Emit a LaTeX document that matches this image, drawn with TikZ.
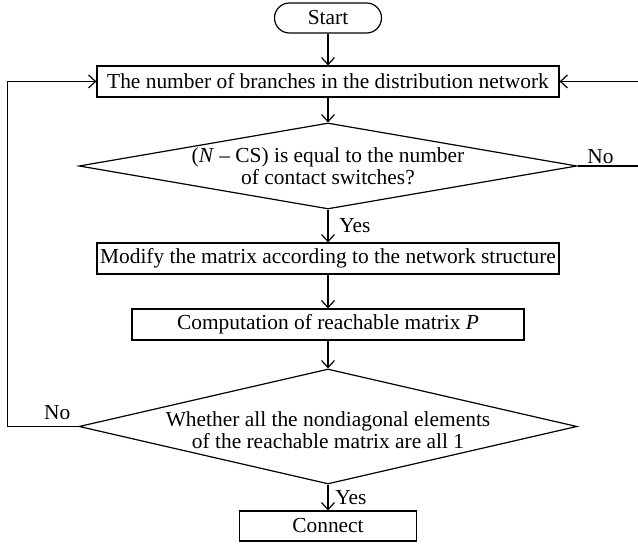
\documentclass[tikz,border=0pt]{standalone}
\usepackage{fontspec}
\setmainfont{Liberation Serif}
\usetikzlibrary{shapes.geometric,arrows.meta}

\begin{document}
\begin{tikzpicture}[x=0.5pt, y=0.5pt,
    font=\fontsize{10.7}{11}\selectfont,
    caja/.style={draw, line width=0.6pt, minimum height=15.5pt, inner sep=0pt},
    inicio/.style={caja, rounded corners=7.5pt, minimum width=53.5pt, minimum height=15pt},
    decision/.style={draw, line width=0.6pt, diamond, inner sep=0pt},
    flecha/.style={line width=0.6pt, -{Straight Barb[length=3.5pt,width=6.5pt]}}]

        % Marco de la figura
        \useasboundingbox (0,0) rectangle (638,544);

        % Bloques del diagrama
        \node[inicio] (start) at (328,526) {Start};
        \node[caja, minimum width=231pt] (ramas) at (328,462.5) {The number of branches in the distribution network};
        \node[decision, minimum width=249pt, minimum height=43pt] (cond) at (328,378) {};
        \node[align=center] (condtxt) at (cond) {(\textit{N} -- CS) is equal to the number\\of contact switches?};
        \node[caja, minimum width=231pt] (modif) at (328,285.5) {Modify the matrix according to the network structure};
        \node[caja, minimum width=196pt] (calc) at (328,219.5) {Computation of reachable matrix \textit{P}};
        \node[decision, minimum width=249pt, minimum height=57.5pt] (todos) at (328,117.5) {};
        \node[align=center, yshift=-2pt] (todostxt) at (todos) {Whether all the nondiagonal elements\\of the reachable matrix are all 1};
        \node[caja, minimum width=88.5pt, minimum height=15pt] (conecta) at (328,18) {Connect};

        % Rieles de retorno
        \coordinate (izq) at (7.5,0);
        \coordinate (der) at (641,0);

        % Flechas principales
        \draw[flecha] (start) -- (ramas);
        \draw[flecha] (ramas) -- (cond);
        \draw[flecha] (cond) -- node[right, xshift=2pt] {Yes} (modif);
        \draw[flecha] (modif) -- (calc);
        \draw[flecha] (calc) -- (todos);
        \draw[flecha] (todos) -- node[right] {Yes} (conecta);

        % Retornos
        \draw[flecha] (todos.west) -- node[above, pos=0.3] {No} (todos.west -| izq) |- (ramas.west);
        \draw[flecha] (cond.east) -- node[above, pos=0.36, inner sep=1pt] {No} (cond.east -| der) |- (ramas.east);

    \end{tikzpicture}
\end{document}
